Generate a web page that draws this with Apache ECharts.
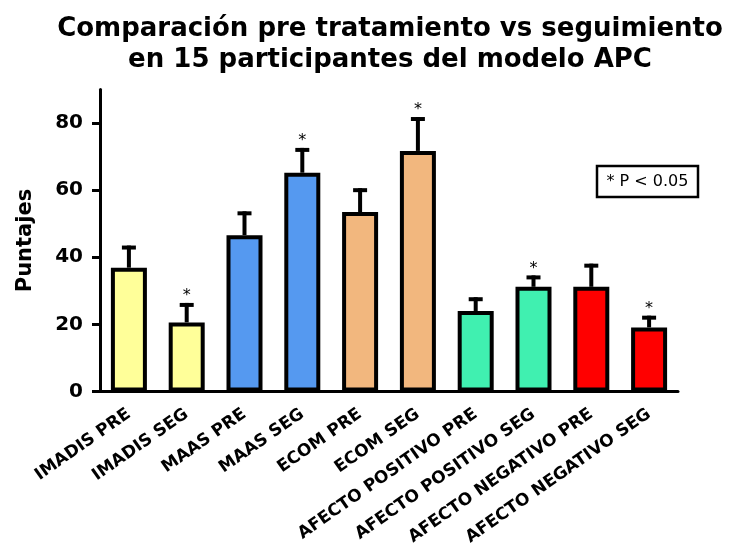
<!DOCTYPE html>
<html>
<head>
<meta charset="utf-8">
<script src="https://cdn.jsdelivr.net/npm/echarts@6/dist/echarts.min.js"></script>
<style>
  html, body { margin: 0; padding: 0; background: #fff; }
  #chart { width: 732px; height: 555px; }
</style>
</head>
<body>
<div id="chart"></div>
<script>
// Mean scores (with SEM) for each scale, pre-treatment vs follow-up
const categories = [
  'IMADIS PRE', 'IMADIS SEG', 'MAAS PRE', 'MAAS SEG', 'ECOM PRE',
  'ECOM SEG', 'AFECTO POSITIVO PRE', 'AFECTO POSITIVO SEG',
  'AFECTO NEGATIVO PRE', 'AFECTO NEGATIVO SEG'
];
const means = [36.9, 20.6, 46.6, 65.2, 53.5, 71.7, 24.0, 31.2, 31.2, 19.1];
const errors = [6.0, 5.2, 6.5, 6.8, 6.5, 9.5, 3.5, 2.8, 6.3, 2.9];
// 1 = significant difference (p < 0.05), marked with an asterisk
const significant = [0, 1, 0, 1, 0, 1, 0, 1, 0, 1];
const barColors = [
  '#FFFF99', '#FFFF99', '#5599F0', '#5599F0', '#F2B77E',
  '#F2B77E', '#40F0B0', '#40F0B0', '#FF0000', '#FF0000'
];
const yTicks = [0, 20, 40, 60, 80];

const FONT = 'DejaVu Sans';
const chart = echarts.init(document.getElementById('chart'), null, { renderer: 'canvas' });

const errorData = means.map((m, i) => [i, m, errors[i], significant[i]]);

chart.setOption({
  animation: false,
  backgroundColor: '#ffffff',
  graphic: [
    {
      type: 'text',
      x: 390,
      y: 14,
      style: {
        text: 'Comparación pre tratamiento vs seguimiento\nen 15 participantes del modelo APC',
        font: 'bold 26px "DejaVu Sans"',
        fill: '#000',
        textAlign: 'center',
        textVerticalAlign: 'top',
        lineHeight: 31
      }
    },
    {
      type: 'group',
      x: 597,
      y: 166,
      children: [
        {
          type: 'rect',
          shape: { x: 0, y: 0, width: 101, height: 31 },
          style: { fill: '#fff', stroke: '#000', lineWidth: 2.5 }
        },
        {
          type: 'text',
          x: 50.5,
          y: 16,
          style: {
            text: '* P < 0.05',
            font: '16px "DejaVu Sans"',
            fill: '#000',
            textAlign: 'center',
            textVerticalAlign: 'middle'
          }
        }
      ]
    }
  ],
  grid: {
    left: 100, right: 54, top: 89.5, bottom: 163.5,
    containLabel: false,
    outerBoundsMode: 'none'
  },
  xAxis: {
    type: 'category',
    data: categories,
    boundaryGap: true,
    axisLine: { lineStyle: { color: '#000', width: 3 } },
    axisTick: { alignWithLabel: true, length: 8, lineStyle: { color: '#000', width: 3 } },
    axisLabel: {
      interval: 0,
      rotate: 35,
      margin: 21,
      hideOverlap: false,
      color: '#000',
      fontFamily: FONT,
      fontWeight: 'bold',
      fontSize: 17
    },
    splitLine: { show: false }
  },
  yAxis: {
    type: 'value',
    min: 0,
    max: 90,
    interval: 10,
    name: 'Puntajes',
    nameLocation: 'middle',
    nameRotate: 90,
    nameGap: 64,
    nameTextStyle: { color: '#000', fontFamily: FONT, fontWeight: 'bold', fontSize: 21 },
    axisLine: { show: true, lineStyle: { color: '#000', width: 3 } },
    axisTick: { show: true, length: 8, customValues: yTicks, lineStyle: { color: '#000', width: 3 } },
    axisLabel: {
      customValues: yTicks,
      margin: 17,
      color: '#000',
      fontFamily: FONT,
      fontWeight: 'bold',
      fontSize: 20
    },
    splitLine: { show: false }
  },
  series: [
    {
      type: 'bar',
      barWidth: 36,
      data: means.map((v, i) => ({
        value: v,
        itemStyle: { color: barColors[i], borderColor: '#000', borderWidth: 4 }
      })),
      z: 2
    },
    {
      type: 'custom',
      z: 3,
      data: errorData,
      encode: { x: 0, y: 1 },
      renderItem: function (params, api) {
        const idx = api.value(0);
        const mean = api.value(1);
        const err = api.value(2);
        const sig = api.value(3);
        const base = api.coord([idx, mean]);
        const top = api.coord([idx, mean + err]);
        const halfCap = 7;
        const children = [
          {
            type: 'line',
            shape: { x1: base[0], y1: base[1], x2: top[0], y2: top[1] - 2 },
            style: { stroke: '#000', lineWidth: 4 }
          },
          {
            type: 'line',
            shape: { x1: top[0] - halfCap, y1: top[1], x2: top[0] + halfCap, y2: top[1] },
            style: { stroke: '#000', lineWidth: 4 }
          }
        ];
        if (sig) {
          children.push({
            type: 'text',
            x: top[0],
            y: top[1] - 9,
            style: {
              text: '*',
              font: '16px "DejaVu Sans"',
              fill: '#000',
              textAlign: 'center',
              textVerticalAlign: 'middle'
            }
          });
        }
        return { type: 'group', children: children };
      }
    }
  ]
});
</script>
</body>
</html>
